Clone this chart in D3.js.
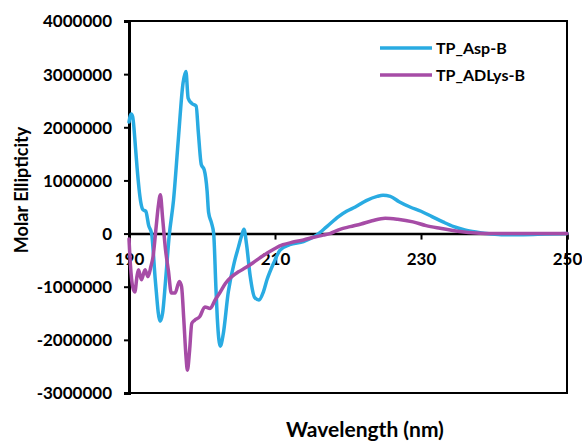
<!DOCTYPE html>
<html>
<head>
<meta charset="utf-8">
<script src="https://cdn.jsdelivr.net/npm/d3@7"></script>
<style>
  html, body { margin: 0; padding: 0; background: #fff; }
  svg { display: block; }
  text { font-family: Lato, "Open Sans", sans-serif; font-weight: bold; fill: #000; }
</style>
</head>
<body>
<svg id="chart" width="582" height="441"></svg>
<script>
// CD spectra: wavelength (nm) vs molar ellipticity (millions)
const aspWavelength = [190.0, 190.3, 190.5, 190.9, 191.1, 191.6, 191.9, 192.3, 192.7, 193.1, 193.6, 194.25, 194.6, 195.0, 195.5, 196.1, 196.75, 197.4, 197.8, 198.1, 198.6, 199.2, 199.5, 199.9, 200.3, 200.7, 200.9, 201.3, 201.6, 201.9, 202.1, 202.5, 202.9, 203.6, 204.5, 205.0, 205.4, 205.75, 206.1, 206.6, 207.2, 207.8, 208.4, 208.9, 209.8, 210.7, 212.0, 213.9, 215.7, 217.1, 218.7, 219.8, 221.0, 222.5, 224.0, 224.8, 225.8, 227.0, 228.5, 230.0, 231.5, 233.0, 234.5, 236.0, 237.5, 239.0, 241.0, 244.0, 247.0, 250.0];
const aspEllipticity = [2.1, 2.25, 2.2, 1.6, 1.25, 0.6, 0.45, 0.42, 0.15, 0.0, -0.87, -1.65, -1.5, -0.9, -0.05, 0.63, 1.76, 2.83, 3.05, 2.55, 2.45, 2.4, 1.9, 1.3, 1.2, 0.8, 0.4, 0.2, 0.0, -1.0, -1.6, -2.12, -1.9, -1.1, -0.5, -0.25, -0.05, 0.08, -0.2, -0.8, -1.2, -1.25, -1.1, -0.87, -0.56, -0.31, -0.21, -0.15, -0.03, 0.13, 0.32, 0.42, 0.5, 0.62, 0.7, 0.72, 0.7, 0.6, 0.5, 0.42, 0.32, 0.22, 0.13, 0.07, 0.03, 0.0, -0.02, -0.02, -0.01, 0.0];

const adlysWavelength = [190.0, 190.2, 190.5, 190.8, 191.1, 191.3, 191.7, 192.2, 192.6, 193.0, 193.3, 193.7, 194.0, 194.3, 194.6, 195.0, 195.4, 195.8, 196.3, 196.9, 197.2, 197.5, 197.8, 198.0, 198.3, 198.6, 199.0, 199.7, 200.4, 201.1, 201.8, 202.5, 203.2, 204.0, 205.0, 206.0, 207.0, 208.0, 208.9, 210.0, 211.1, 212.5, 213.9, 215.3, 216.6, 217.5, 218.9, 220.3, 221.8, 223.3, 225.1, 226.8, 228.9, 230.7, 232.6, 235.3, 237.5, 240.0, 245.0, 250.0];
const adlysEllipticity = [-0.1, -0.6, -1.0, -1.1, -0.8, -0.68, -0.87, -0.68, -0.81, -0.62, -0.43, 0.1, 0.5, 0.73, 0.3, -0.3, -0.7, -1.12, -1.12, -0.9, -1.0, -1.6, -2.3, -2.57, -2.2, -1.69, -1.63, -1.56, -1.38, -1.41, -1.25, -1.1, -0.94, -0.82, -0.72, -0.64, -0.55, -0.45, -0.37, -0.28, -0.21, -0.16, -0.12, -0.07, -0.03, 0.0, 0.08, 0.13, 0.18, 0.24, 0.29, 0.27, 0.22, 0.15, 0.1, 0.04, 0.01, 0.0, 0.0, 0.0];

const xTicks = [190, 210, 230, 250];
const yTicks = [-3000000, -2000000, -1000000, 0, 1000000, 2000000, 3000000, 4000000];
const seriesNames = ["TP_Asp-B", "TP_ADLys-B"];
const seriesColors = ["#29abe2", "#a64ca6"];

const svg = d3.select("#chart");
const plotLeft = 129, plotRight = 567, plotTop = 21, plotBottom = 393;

const x = d3.scaleLinear().domain([190, 250]).range([plotLeft, plotRight]);
const y = d3.scaleLinear().domain([-3000000, 4000000]).range([plotBottom, plotTop]);

// plain integer labels with an ASCII hyphen for negatives
const plainInt = d => String(d);

// plot frame
svg.append("rect")
  .attr("x", plotLeft).attr("y", plotTop)
  .attr("width", plotRight - plotLeft).attr("height", plotBottom - plotTop)
  .attr("fill", "none").attr("stroke", "#000").attr("stroke-width", 2);

// y axis
const yAxis = svg.append("g")
  .attr("transform", `translate(${plotLeft},0)`)
  .call(d3.axisLeft(y).tickValues(yTicks).tickFormat(plainInt).tickSize(5).tickPadding(12));
yAxis.select(".domain").attr("stroke-width", 3);
yAxis.selectAll(".tick line").attr("stroke-width", 2);
yAxis.selectAll("text").style("font-size", "17px").attr("dy", "0.35em");

// x axis along zero
const xAxis = svg.append("g")
  .attr("transform", `translate(0,${y(0)})`)
  .call(d3.axisBottom(x).tickValues(xTicks).tickFormat(plainInt).tickSize(6).tickPadding(13));
xAxis.select(".domain").attr("stroke-width", 2.5);
xAxis.selectAll(".tick line").attr("stroke-width", 2);
xAxis.selectAll("text").style("font-size", "17px");

const line = d3.line()
  .x(d => x(d[0]))
  .y(d => y(d[1] * 1e6))
  .curve(d3.curveMonotoneX);

const series = [
  d3.zip(aspWavelength, aspEllipticity),
  d3.zip(adlysWavelength, adlysEllipticity)
];

svg.append("g").selectAll("path")
  .data(series)
  .join("path")
  .attr("d", line)
  .attr("fill", "none")
  .attr("stroke", (d, i) => seriesColors[i])
  .attr("stroke-width", 3.5)
  .attr("stroke-linejoin", "round")
  .attr("stroke-linecap", "round");

// legend
const legend = svg.append("g").selectAll("g")
  .data(seriesNames)
  .join("g")
  .attr("transform", (d, i) => `translate(380,${48 + i * 27})`);
legend.append("line")
  .attr("x1", 0).attr("x2", 52)
  .attr("stroke", (d, i) => seriesColors[i])
  .attr("stroke-width", 3.5);
legend.append("text")
  .attr("x", 56).attr("dy", "0.35em")
  .style("font-size", "16px")
  .text(d => d);

// axis titles
svg.append("text")
  .attr("x", 365).attr("y", 437)
  .attr("text-anchor", "middle")
  .style("font-size", "21px")
  .text("Wavelength (nm)");

svg.append("text")
  .attr("transform", "translate(28,190) rotate(-90)")
  .attr("text-anchor", "middle")
  .style("font-size", "18px")
  .text("Molar Ellipticity");
</script>
</body>
</html>
